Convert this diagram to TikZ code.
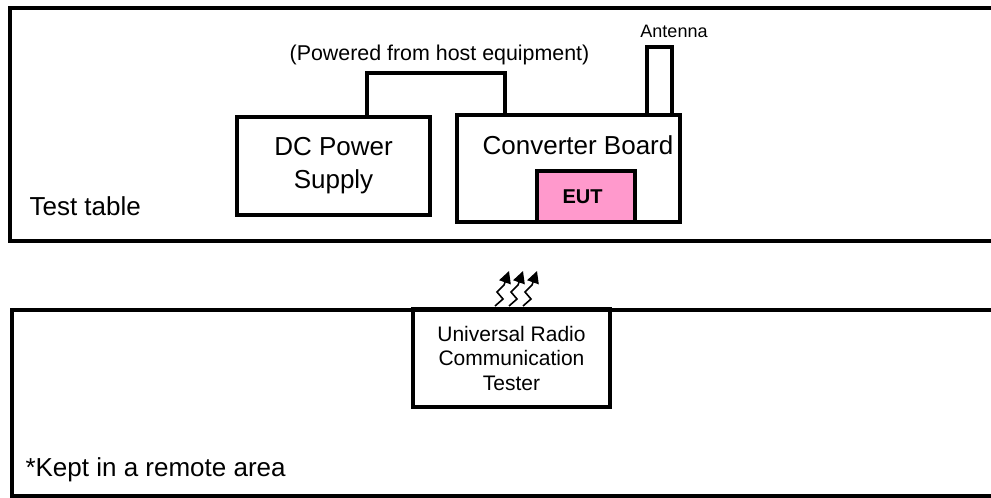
\documentclass[tikz,border=0pt]{standalone}
\usepackage{fontspec}
\setmainfont{Liberation Sans}
\usetikzlibrary{arrows.meta}
\definecolor{eutpink}{HTML}{FF99CC}
\tikzset{
    unitbox/.style={draw, line width=3.5pt, inner sep=0pt, align=center},
    bigtext/.style={font=\fontsize{26}{33}\selectfont},
    smalltext/.style={font=\fontsize{21}{24.5}\selectfont},
    zap/.style={line width=1.6pt, -{Triangle[length=12pt,width=12pt]}}
}
\begin{document}
\begin{tikzpicture}[x=1pt, y=-1pt]
            \useasboundingbox (0, 0) rectangle (991, 498);

            % test table and remote area
            \draw[line width=3.5pt] (991, 8) -- (10, 8) -- (10, 241) -- (991, 241);
            \draw[line width=3.5pt] (991, 310) -- (12, 310) -- (12, 496) -- (991, 496);
            \node[bigtext, anchor=base west] (tablelbl) at (26, 215) {Test table};
            \node[bigtext, anchor=base west] (remotelbl) at (22, 476) {*Kept in a remote area};

            \node[unitbox, bigtext, minimum width=193pt, minimum height=98pt] (dc) at (333.5, 166) {DC Power\\Supply};
            \node[unitbox, minimum width=223pt, minimum height=107pt] (conv) at (568.5, 168.5) {};
            \node[bigtext, anchor=base] (convlbl) at (578, 154) {Converter Board};
            \node[unitbox, fill=eutpink, minimum width=98pt, minimum height=51pt, font=\fontsize{20}{24}\selectfont\bfseries] (eut) at (586, 196.5) {\hspace*{-7pt}EUT};
            \node[unitbox, minimum width=25pt, minimum height=68pt] (ant) at (659.5, 81) {};
            \node[font=\fontsize{18}{21}\selectfont, anchor=base] (antlbl) at (674, 37) {Antenna};

            \coordinate (pwrl) at (367, 73);
            \coordinate (pwrr) at (505, 73);
            \draw[line width=3.5pt] (dc.north -| pwrl) -- (pwrl) -- (pwrr) -- (conv.north -| pwrr);
            \node[font=\fontsize{21.4}{25}\selectfont, anchor=base] (pwrlbl) at (439.5, 60) {(Powered from host equipment)};

            \node[unitbox, smalltext, minimum width=197pt, minimum height=98pt] (tester) at (511.5, 358) {Universal Radio\\Communication\\Tester};

            % radio link
            \foreach \dx in {0, 14, 28} {
                \draw[zap] (495+\dx, 306) -- ++(8, -7) -- ++(-6, -7) -- ++(7, -7) -- ++(5, -14);
            }
        \end{tikzpicture}
\end{document}
